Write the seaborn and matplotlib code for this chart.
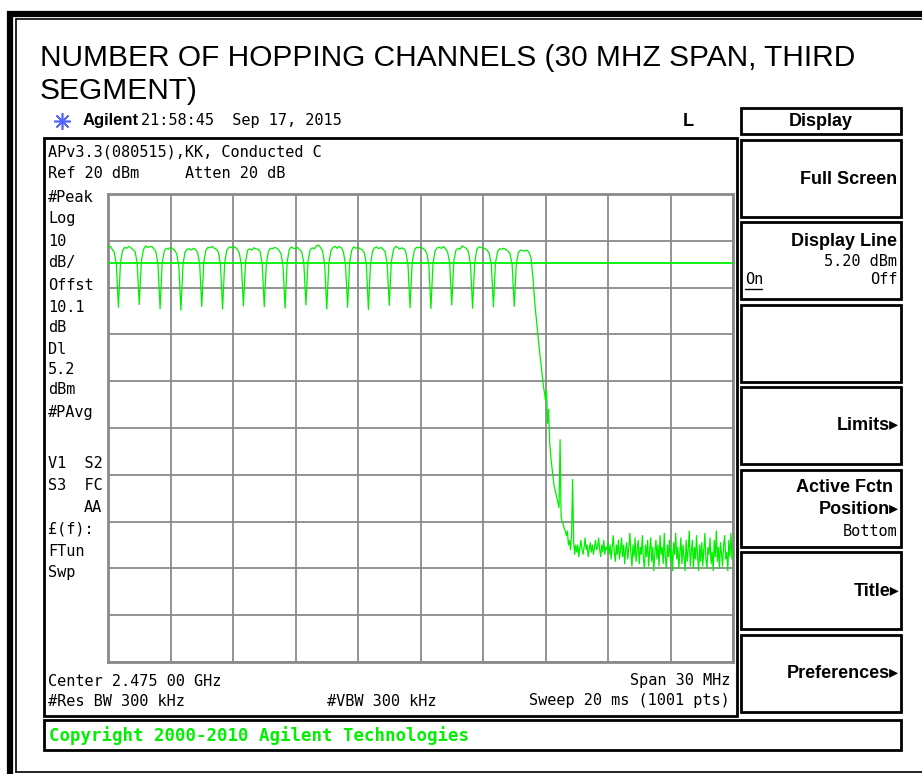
import numpy as np
import pandas as pd
import seaborn as sns
import matplotlib.pyplot as plt
from matplotlib.patches import Rectangle

###############################>DATA<###############################
# analyzer settings
ref_dbm = 20
db_div = 10
start_mhz = 2460.0
span_mhz = 30
dl_dbm = 5.2

# trace, 0.1 MHz steps from 2460.0 to 2480.9 MHz
hop_dbm = [
    8.7, 8.9, 8.2, 7.6, 5.0, -4.2, 5.4, 7.9, 8.6, 8.4,
    8.8, 8.5, 8.1, 7.7, 5.3, -3.6, 5.6, 8.1, 8.9, 8.6,
    8.7, 8.8, 8.3, 7.6, 4.9, -4.5, 5.2, 7.8, 8.4, 8.2,
    8.6, 8.3, 8.0, 7.2, 4.6, -4.8, 5.0, 7.6, 8.2, 8.3,
    8.0, 8.4, 8.1, 7.5, 5.1, -4.0, 5.5, 8.0, 8.6, 8.5,
    8.8, 8.4, 8.2, 7.6, 4.8, -4.6, 5.3, 7.9, 8.6, 8.7,
    8.4, 8.7, 8.2, 7.4, 5.0, -3.9, 5.4, 8.0, 8.3, 8.0,
    8.5, 8.3, 8.2, 7.7, 5.2, -4.1, 5.1, 7.7, 8.4, 8.3,
    8.6, 8.4, 8.0, 7.3, 4.7, -4.4, 5.5, 8.1, 8.7, 8.4,
    8.3, 8.6, 8.1, 7.6, 5.3, -3.7, 5.6, 8.0, 8.5, 8.3,
    8.9, 9.1, 8.6, 7.8, 5.0, -4.6, 5.2, 7.9, 8.6, 8.8,
    8.4, 8.8, 8.5, 7.6, 4.9, -4.2, 5.4, 8.0, 8.7, 8.4,
    8.6, 8.3, 8.1, 7.5, 5.1, -4.7, 5.0, 7.8, 8.5, 8.7,
    8.3, 8.6, 8.2, 7.7, 5.2, -3.8, 5.5, 8.1, 8.8, 8.6,
    8.2, 8.5, 8.3, 7.6, 4.8, -4.3, 5.3, 7.9, 8.6, 8.5,
    8.7, 8.4, 8.1, 7.4, 4.9, -4.5, 5.1, 7.8, 8.5, 8.6,
    8.4, 8.8, 8.3, 7.6, 5.3, -3.7, 5.6, 8.0, 8.4, 8.2,
    8.9, 8.6, 8.4, 7.7, 5.0, -4.4, 5.2, 8.1, 8.7, 8.6,
    8.4, 8.3, 8.0, 7.3, 4.9, -4.1, 5.3, 7.7, 8.3, 8.2,
    8.4, 8.1, 7.8, 7.2, 4.8, -4.0, 5.1, 7.5, 8.0, 7.9,
    7.8, 8.0, 7.6, 6.5, 2.0, -4.0, -8.5, -13.0, -17.0, -21.0,
]

# band edge roll-off and noise floor, 0.05 MHz steps from 2481.00 to 2490.00 MHz
tail_dbm = [
    -24.0, -22.0, -29.0, -26.0, -33.0, -36.0, -38.0, -40.0, -42.0, -43.0,
    -44.0, -45.0, -46.0, -47.0, -32.5, -49.0, -50.0, -50.5, -51.5, -52.0,
    -53.0, -52.0, -55.0, -54.0, -56.0, -53.0, -41.0, -54.0, -57.0, -55.0,
    -56.5, -55.0, -57.5, -55.5, -54.0, -56.0, -57.0, -55.5, -53.5, -56.0,
    -55.0, -57.5, -56.0, -54.5, -56.5, -55.0, -57.0, -55.5, -54.0, -56.0,
    -55.5, -53.5, -56.0, -57.5, -55.0, -56.5, -54.0, -57.0, -55.5, -56.0,
    -54.5, -57.0, -55.0, -58.0, -55.5, -53.0, -56.5, -58.5, -55.0, -57.0,
    -54.0, -58.0, -56.0, -53.5, -57.5, -55.0, -59.0, -56.0, -54.5, -58.0,
    -55.5, -52.5, -57.0, -59.5, -55.0, -57.5, -53.5, -58.5, -56.0, -54.0,
    -59.0, -55.5, -57.0, -53.0, -58.0, -60.0, -55.0, -57.5, -54.0, -59.5,
    -56.0, -53.5, -58.5, -55.5, -60.5, -56.5, -54.0, -58.0, -55.0, -59.5,
    -53.0, -57.0, -55.5, -59.0, -52.5, -57.5, -60.0, -55.0, -57.5, -54.0,
    -58.5, -56.0, -60.5, -54.5, -57.0, -52.5, -58.0, -55.5, -60.0, -56.5,
    -53.5, -59.0, -55.0, -57.5, -60.5, -54.0, -58.5, -56.0, -52.0, -59.5,
    -56.5, -54.0, -60.0, -55.5, -58.0, -53.0, -57.5, -60.5, -55.0, -58.5,
    -54.5, -59.5, -56.0, -52.5, -58.0, -60.0, -55.5, -57.0, -53.5, -59.0,
    -56.5, -60.5, -54.0, -57.5, -52.0, -58.5, -55.5, -60.0, -54.5, -57.0,
    -59.5, -55.0, -53.0, -58.0, -56.5, -60.5, -54.0, -57.5, -52.5, -58.0,
    -56.0,
]

title_lines = ['NUMBER OF HOPPING CHANNELS (30 MHZ SPAN, THIRD', 'SEGMENT)']

side_labels = ['#Peak', 'Log', '10', 'dB/', 'Offst', '10.1', 'dB', 'Dl', '5.2', 'dBm',
               '#PAvg', 'V1  S2', 'S3  FC', '£(f):', 'FTun', 'Swp']
side_y = [197, 219, 241, 263, 285, 307, 328, 350, 369, 390, 413, 463, 485, 529, 551, 573]

softkey_tops = [140, 222, 305, 387, 470, 552, 635]

###############################>STYLE<###############################
sns.set_theme(style='white')
plt.rcParams['font.family'] = ['DejaVu Sans']
plt.rcParams['text.color'] = 'black'
mono = 'DejaVu Sans Mono'
sans = ['Liberation Sans', 'DejaVu Sans']
green = '#00f000'
grey = '#8a8a8a'
W, H = 922, 774

fig = plt.figure(figsize=(W / 100, H / 100), dpi=100)

# pixel-space layer for the screen furniture
bg = fig.add_axes([0, 0, 1, 1])
bg.set_xlim(0, W)
bg.set_ylim(H, 0)
bg.axis('off')


def box(x0, y0, x1, y1, lw=2.0, color='black'):
    bg.add_patch(Rectangle((x0, y0), x1 - x0, y1 - y0, fill=False, lw=lw, ec=color))


# page frame
bg.plot([7, W], [13.5, 13.5], color='black', lw=4.5, solid_capstyle='butt')
bg.plot([10, 10], [11, H], color='black', lw=4.5, solid_capstyle='butt')
bg.plot([15.5, W], [18.5, 18.5], color='black', lw=1.2)
bg.plot([15.5, 15.5], [18.5, 772], color='black', lw=1.2)
bg.plot([15.5, W], [772, 772], color='black', lw=1.2)

# title
bg.text(40, 66, title_lines[0], family=sans, fontsize=21.5, va='baseline')
bg.text(40, 99, title_lines[1], family=sans, fontsize=21.5, va='baseline')

# header line
bg.plot(62, 121, marker=(8, 2, 0), ms=12, mec='#5566ff', mew=1.2, ls='none')
bg.text(83, 121, 'Agilent', family=sans, fontweight='bold', fontsize=12, va='center')
bg.text(141, 121, '21:58:45  Sep 17, 2015', family=mono, fontsize=11, va='center')
bg.text(683, 121, 'L', family=sans, fontweight='bold', fontsize=13, va='center')

# screen, copyright bar and soft keys
box(44, 138, 737, 716)
box(44, 720, 901, 750)
box(741, 108, 901, 134)
bg.text(821, 121, 'Display', family=sans, fontweight='bold', fontsize=13, ha='center', va='center')
for top in softkey_tops:
    box(741, top, 901, top + 77)

bg.text(897, 180, 'Full Screen', family=sans, fontweight='bold', fontsize=13, ha='right', va='center')
bg.text(897, 241, 'Display Line', family=sans, fontweight='bold', fontsize=13, ha='right', va='center')
bg.text(897, 262, '5.20 dBm', family=mono, fontsize=11, ha='right', va='center')
bg.text(745, 280, 'On', family=mono, fontsize=11, va='center')
bg.plot([745, 762], [289, 289], color='black', lw=1)
bg.text(897, 280, 'Off', family=mono, fontsize=11, ha='right', va='center')
bg.text(899, 426, 'Limits\u25b8', family=sans, fontweight='bold', fontsize=13, ha='right', va='center')
bg.text(893, 488, 'Active Fctn', family=sans, fontweight='bold', fontsize=13, ha='right', va='center')
bg.text(899, 510, 'Position\u25b8', family=sans, fontweight='bold', fontsize=13, ha='right', va='center')
bg.text(897, 532, 'Bottom', family=mono, fontsize=11, ha='right', va='center')
bg.text(899, 591, 'Title\u25b8', family=sans, fontweight='bold', fontsize=13, ha='right', va='center')
bg.text(899, 674, 'Preferences\u25b8', family=sans, fontweight='bold', fontsize=13, ha='right', va='center')

bg.text(49, 736, 'Copyright 2000-2010 Agilent Technologies', family=mono, fontweight='bold',
        fontsize=12.5, color=green, va='center')

# annotation text on the screen
bg.text(48, 152, 'APv3.3(080515),KK, Conducted C', family=mono, fontsize=11, va='center')
bg.text(48, 174, 'Ref 20 dBm', family=mono, fontsize=11, va='center')
bg.text(185, 174, 'Atten 20 dB', family=mono, fontsize=11, va='center')
for lab, y in zip(side_labels, side_y):
    bg.text(48, y, lab, family=mono, fontsize=11, va='center')
bg.text(102, 507, 'AA', family=mono, fontsize=11, ha='right', va='center')
bg.text(48, 681, 'Center 2.475 00 GHz', family=mono, fontsize=11, va='center')
bg.text(730, 681, 'Span 30 MHz', family=mono, fontsize=11, ha='right', va='center')
bg.text(48, 701, '#Res BW 300 kHz', family=mono, fontsize=11, va='center')
bg.text(327, 701, '#VBW 300 kHz', family=mono, fontsize=11, va='center')
bg.text(730, 701, 'Sweep 20 ms (1001 pts)', family=mono, fontsize=11, ha='right', va='center')

###############################>TRACE<###############################
ax = fig.add_axes([108 / W, 1 - 662 / H, 625 / W, 468 / H])
hop_f = start_mhz + 0.1 * np.arange(len(hop_dbm))
tail_f = 2481.0 + 0.05 * np.arange(len(tail_dbm))
df = pd.DataFrame({'freq': np.concatenate([hop_f, tail_f]),
                   'level': np.concatenate([hop_dbm, tail_dbm])})

sns.lineplot(data=df, x='freq', y='level', ax=ax, color=green, lw=0.9,
             estimator=None, sort=False, zorder=3)
ax.axhline(dl_dbm, color=green, lw=1.3, zorder=3)

ax.set_xlim(start_mhz, start_mhz + span_mhz)
ax.set_ylim(ref_dbm - 10 * db_div, ref_dbm)
ax.set_xticks(np.linspace(start_mhz, start_mhz + span_mhz, 11))
ax.set_yticks(np.arange(ref_dbm - 10 * db_div, ref_dbm + 1, db_div))
ax.grid(True, color=grey, lw=1.3)
ax.tick_params(length=0, labelbottom=False, labelleft=False)
ax.set_xlabel('')
ax.set_ylabel('')
for sp in ax.spines.values():
    sp.set_color(grey)
    sp.set_linewidth(2)

plt.savefig('out.png', dpi=100)
